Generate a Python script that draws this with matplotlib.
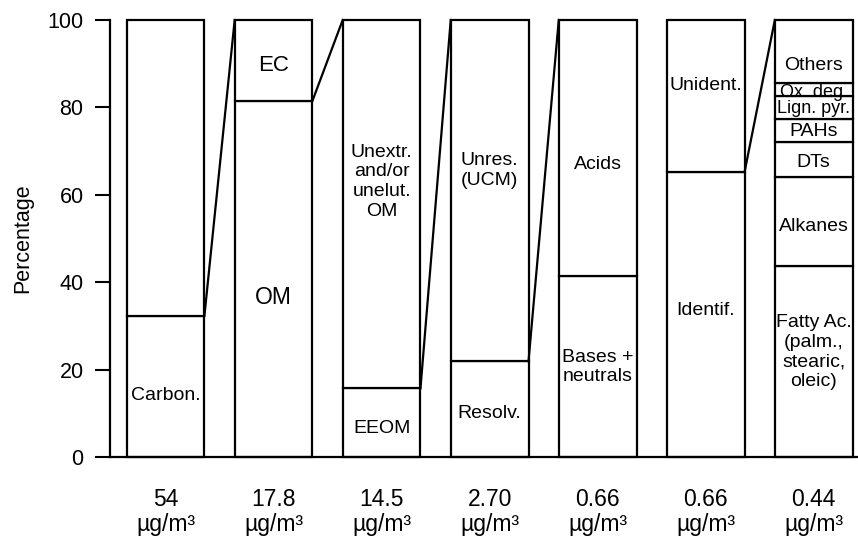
import matplotlib
matplotlib.use("Agg")
import matplotlib.pyplot as plt

# ---- data ----
concentrations = ["54", "17.8", "14.5", "2.70", "0.66", "0.66", "0.44"]
unit = "µg/m³"

bar0_labels = ["Carbon.", ""]
bar0_values = [32.3, 67.7]
bar1_labels = ["OM", "EC"]
bar1_values = [81.5, 18.5]
bar2_labels = ["EEOM", "Unextr.\nand/or\nunelut.\nOM"]
bar2_values = [15.7, 84.3]
bar3_labels = ["Resolv.", "Unres.\n(UCM)"]
bar3_values = [21.9, 78.1]
bar4_labels = ["Bases +\nneutrals", "Acids"]
bar4_values = [41.4, 58.6]
bar5_labels = ["Identif.", "Unident."]
bar5_values = [65.2, 34.8]
bar6_labels = ["Fatty Ac.\n(palm.,\nstearic,\noleic)", "Alkanes", "DTs", "PAHs",
               "Lign. pyr.", "Ox. deg.", "Others"]
bar6_values = [43.6, 20.4, 8.0, 5.3, 5.3, 3.0, 14.4]

# which bar's lower segment fans out into the next bar
connector_from = [0, 1, 2, 3, 5]

# ---- layout (label vertical positions, %, and font sizes) ----
label_y = [
    [14.0, None],
    [36.6, 89.7],
    [6.6, 63.0],
    [10.0, 65.5],
    [20.6, 67.0],
    [33.6, 85.0],
    [24.0, 52.7, 67.5, 74.4, 79.8, 83.3, 89.7],
]
label_size = [
    [14, 14],
    [16.5, 16],
    [14, 14],
    [14, 14],
    [14, 14],
    [14, 14],
    [14, 14, 14, 14, 13, 13, 14],
]

all_labels = [bar0_labels, bar1_labels, bar2_labels, bar3_labels,
              bar4_labels, bar5_labels, bar6_labels]
all_values = [bar0_values, bar1_values, bar2_values, bar3_values,
              bar4_values, bar5_values, bar6_values]

plt.rcParams['font.family'] = ['Liberation Sans', 'DejaVu Sans']

fig = plt.figure(figsize=(8.58, 5.37), dpi=100)
ax = fig.add_axes([110 / 858, 80 / 537, 748 / 858, 437 / 537])

width = 0.72
lw = 1.6
for i, (labs, vals) in enumerate(zip(all_labels, all_values)):
    bottom = 0.0
    for j, (lab, v) in enumerate(zip(labs, vals)):
        ax.bar(i, v, bottom=bottom, width=width, facecolor="white",
               edgecolor="black", linewidth=lw, clip_on=False, zorder=2)
        if lab:
            ax.text(i, label_y[i][j], lab, ha="center", va="center",
                    fontsize=label_size[i][j], linespacing=1.2, zorder=3)
        bottom += v

for i in connector_from:
    y0 = all_values[i][0]
    ax.plot([i + width / 2, i + 1 - width / 2], [y0, 100], color="black",
            linewidth=lw, clip_on=False, zorder=3)

ax.set_xlim(-0.514, 6.41)
ax.set_ylim(0, 100)
ax.set_yticks([0, 20, 40, 60, 80, 100])
ax.tick_params(axis="y", direction="out", length=11, width=1.5, pad=8,
               labelsize=15.5)
ax.set_xticks(range(len(concentrations)))
ax.set_xticklabels([c + "\n" + unit for c in concentrations], fontsize=16.5,
                   linespacing=1.15)
ax.tick_params(axis="x", length=0, pad=22)
ax.set_ylabel("Percentage", fontsize=15.5, labelpad=10)
ax.spines["top"].set_visible(False)
ax.spines["right"].set_visible(False)
ax.spines["left"].set_linewidth(1.6)
ax.spines["bottom"].set_linewidth(1.6)

fig.savefig("out.png", dpi=100)
